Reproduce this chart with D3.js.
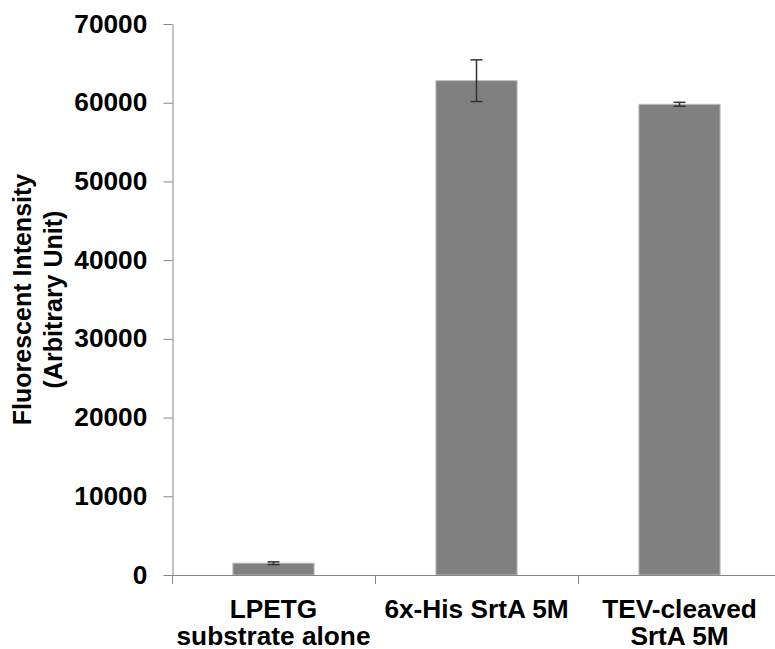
<!DOCTYPE html>
<html>
<head>
<meta charset="utf-8">
<script src="https://cdn.jsdelivr.net/npm/d3@7/dist/d3.min.js"></script>
<style>
  html, body { margin: 0; padding: 0; background: #ffffff; }
  svg text { font-family: "Liberation Sans", Arial, Helvetica, sans-serif; font-weight: bold; fill: #000; }
</style>
</head>
<body>
<svg id="chart" width="775" height="649"></svg>
<script>
// Category labels (one entry per line of text)
const categories = ["LPETG\nsubstrate alone", "6x-His SrtA 5M", "TEV-cleaved\nSrtA 5M"];
// Mean fluorescence per condition
const values = [1500, 62800, 59800];
// Error bar half-lengths
const errors = [170, 2650, 250];
// Y-axis tick values
const yTicks = [0, 10000, 20000, 30000, 40000, 50000, 60000, 70000];
const yTitle = ["Fluorescent Intensity", "(Arbitrary Unit)"];

(function () {
  const svg = d3.select("#chart");
  const plotLeft = 172, plotRight = 781, plotTop = 24, plotBottom = 575;
  const stretch = 1.05; // slightly wide lettering for horizontal labels

  const x = d3.scaleBand()
    .domain(categories)
    .range([plotLeft, plotRight])
    .paddingInner(0.6)
    .paddingOuter(0.3);

  const y = d3.scaleLinear()
    .domain([0, 70000])
    .range([plotBottom, plotTop]);

  const axisColor = "#868686";

  // Y axis
  const yAxis = svg.append("g")
    .attr("transform", `translate(${plotLeft + 0.5},0)`)
    .call(d3.axisLeft(y).tickValues(yTicks).tickFormat(d3.format("d"))
      .tickSize(9).tickSizeOuter(0).tickPadding(15));
  yAxis.select(".domain").attr("stroke", axisColor);
  yAxis.selectAll(".tick line").attr("stroke", axisColor);
  yAxis.selectAll(".tick text")
    .attr("font-size", 25)
    .attr("font-family", null)
    .attr("fill", "#000")
    .attr("transform", `scale(${stretch},1)`);

  // Category bars
  svg.selectAll(".bar")
    .data(categories)
    .join("rect")
    .attr("class", "bar")
    .attr("x", d => x(d))
    .attr("width", x.bandwidth())
    .attr("y", (d, i) => y(values[i]))
    .attr("height", (d, i) => y(0) - y(values[i]))
    .attr("fill", "#808080")
    .attr("stroke", "#bdbdbd")
    .attr("stroke-width", 1);

  // X axis baseline and category divider ticks
  svg.append("line")
    .attr("x1", plotLeft).attr("x2", 775)
    .attr("y1", y(0) + 0.5).attr("y2", y(0) + 0.5)
    .attr("stroke", axisColor);
  const step = x.step();
  svg.selectAll(".xtick")
    .data(categories)
    .join("line")
    .attr("class", "xtick")
    .attr("x1", (d, i) => Math.round(plotLeft + i * step) + 0.5)
    .attr("x2", (d, i) => Math.round(plotLeft + i * step) + 0.5)
    .attr("y1", y(0))
    .attr("y2", y(0) + 9)
    .attr("stroke", axisColor);

  // Error bars
  const cap = 6;
  const eb = svg.selectAll(".err")
    .data(categories)
    .join("g")
    .attr("class", "err")
    .attr("stroke", "#333")
    .attr("stroke-width", 1.5);
  eb.append("line")
    .attr("x1", d => x(d) + x.bandwidth() / 2)
    .attr("x2", d => x(d) + x.bandwidth() / 2)
    .attr("y1", (d, i) => y(values[i] + errors[i]))
    .attr("y2", (d, i) => y(values[i] - errors[i]));
  [1, -1].forEach(s => {
    eb.append("line")
      .attr("x1", d => x(d) + x.bandwidth() / 2 - cap)
      .attr("x2", d => x(d) + x.bandwidth() / 2 + cap)
      .attr("y1", (d, i) => y(values[i] + s * errors[i]))
      .attr("y2", (d, i) => y(values[i] + s * errors[i]));
  });

  // Category labels
  const labels = svg.selectAll(".xlabel")
    .data(categories)
    .join("text")
    .attr("class", "xlabel")
    .attr("text-anchor", "middle")
    .attr("font-size", 25)
    .attr("transform", d => `translate(${x(d) + x.bandwidth() / 2},618) scale(${stretch},1)`);
  labels.selectAll("tspan")
    .data(d => d.split("\n"))
    .join("tspan")
    .attr("x", 0)
    .attr("y", (d, i) => i * 27)
    .text(d => d);

  // Y axis title
  const title = svg.append("text")
    .attr("text-anchor", "middle")
    .attr("font-size", 25)
    .attr("transform", `translate(0,${(plotTop + plotBottom) / 2}) rotate(-90)`);
  title.selectAll("tspan")
    .data(yTitle)
    .join("tspan")
    .attr("x", 0)
    .attr("y", (d, i) => 31 + i * 31)
    .text(d => d);
})();
</script>
</body>
</html>
